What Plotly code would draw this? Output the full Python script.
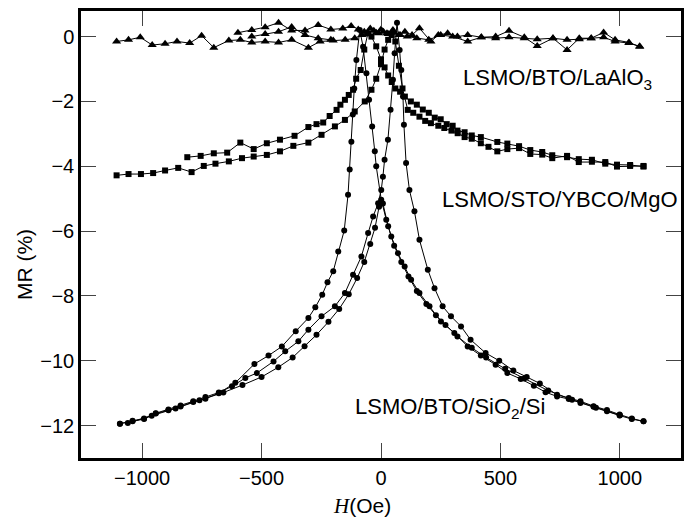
import plotly.graph_objects as go

# ---- LSMO/BTO/SiO2/Si (circles) ----
circ_a_x = [1099, 1050, 999, 946, 890, 835, 786, 737, 689, 640, 585, 529, 480, 418, 363, 307, 251, 203, 161, 126, 99, 71, 43, 22, 1,
            -20, -26, -37, -50, -61, -75, -89, -103, -112, -118, -124, -131, -138, -154, -179, -200, -224, -246, -275, -304,
            -357, -415, -471, -530, -610, -679, -735, -786, -839, -890, -943, -992, -1040, -1093]
circ_a_y = [-11.87, -11.80, -11.69, -11.56, -11.42, -11.30, -11.18, -11.10, -10.97, -10.77, -10.56, -10.38, -10.12, -9.84, -9.56,
            -9.14, -8.79, -8.32, -7.91, -7.50, -7.09, -6.68, -6.17, -5.65, -5.03,
            -4.00, -3.54, -2.77, -1.95, -1.13, -0.31, 0.20, -0.72, -1.60, -2.40, -3.24, -4.10, -4.88, -5.98, -6.63, -7.24,
            -7.58, -7.96, -8.35, -8.68, -9.09, -9.56, -9.84, -10.10, -10.68, -11.00, -11.17, -11.27, -11.41, -11.53,
            -11.63, -11.80, -11.87, -11.94]

circ_b_x = [-1093, -1040, -992, -943, -890, -839, -786, -735, -679, -624, -568, -520, -450, -401, -346, -304, -249, -193,
            -151, -117, -82, -54, -33, -12, 1, 8, 15, 29, 40, 50, 57, 67, 78, 85, 92, 96, 105, 119, 140, 161, 196, 224,
            258, 293, 335, 375, 438, 495, 554, 610, 665, 737, 786, 835, 890, 946, 999, 1050, 1099]
circ_b_y = [-11.94, -11.85, -11.78, -11.62, -11.50, -11.38, -11.25, -11.12, -10.98, -10.79, -10.53, -10.38, -10.02, -9.71,
            -9.40, -9.04, -8.63, -8.32, -7.91, -7.35, -6.78, -6.06, -5.55, -5.14, -4.73, -4.32, -3.80, -3.18, -2.26,
            -1.33, -0.51, 0.43, -0.41, -1.03, -1.85, -2.72, -3.90, -4.73, -5.39, -6.27, -7.19, -7.76, -8.32, -8.63,
            -8.94, -9.35, -9.76, -10.00, -10.30, -10.50, -10.70, -11.05, -11.15, -11.25, -11.40, -11.52, -11.66,
            -11.78, -11.87]

circ_c_x = [-1060, -960, -860, -760, -660, -580, -500, -430, -370, -320, -270, -220, -175, -135, -100, -70, -45, -25, -8,
            8, 30, 55, 85, 115, 150, 190, 230, 270, 320, 380, 440, 520, 600, 700, 800, 900, 1000]
circ_c_y = [-11.92, -11.70, -11.47, -11.22, -10.98, -10.75, -10.50, -10.20, -9.90, -9.55, -9.20, -8.80, -8.40, -7.95,
            -7.45, -6.95, -6.40, -5.90, -5.25, -5.15, -5.85, -6.45, -6.95, -7.40, -7.85, -8.25, -8.60, -8.90, -9.25,
            -9.60, -9.90, -10.25, -10.55, -10.92, -11.20, -11.45, -11.68]

# ---- LSMO/STO/YBCO/MgO (squares) ----
sq_a_x = [-1107, -1057, -1005, -954, -904, -849, -793, -742, -693, -637, -582, -533, -478, -423, -367, -304, -249, -193,
          -151, -110, -68, -40, -20, 0, 15, 30, 45, 60, 75, 90, 112, 135, 161, 185, 209, 240, 265, 295, 321, 350, 380,
          418, 450, 487, 529, 578, 625, 675, 717, 779, 828, 883, 939, 988, 1043, 1099]
sq_a_y = [-4.28, -4.24, -4.24, -4.21, -4.13, -4.05, -4.18, -3.99, -3.92, -3.85, -3.75, -3.70, -3.65, -3.54, -3.37, -3.27,
          -3.03, -2.77, -2.57, -2.31, -2.00, -1.64, -1.30, -0.85, -0.40, -0.10, 0.05, -0.15, -0.90, -1.60, -2.26, -2.35,
          -2.47, -2.60, -2.67, -2.75, -2.82, -2.90, -2.98, -3.10, -3.15, -3.29, -3.40, -3.54, -3.47, -3.44, -3.62,
          -3.64, -3.75, -3.68, -3.87, -3.86, -3.87, -4.01, -3.99, -3.99]

sq_b_x = [1099, 1043, 988, 939, 883, 828, 779, 717, 675, 625, 578, 529, 487, 418, 380, 350, 320, 300, 275, 250, 225, 200,
          175, 150, 125, 100, 80, 60, 45, 30, 15, 0, -20, -40, -55, -70, -85, -104, -117, -135, -151, -170, -186, -215,
          -242, -270, -304, -362, -423, -478, -533, -589, -644, -700, -755, -811]
sq_b_y = [-4.01, -3.96, -3.95, -3.92, -3.80, -3.78, -3.72, -3.66, -3.56, -3.50, -3.38, -3.30, -3.25, -3.10, -3.05, -2.95,
          -2.90, -2.75, -2.70, -2.55, -2.50, -2.35, -2.25, -2.10, -2.00, -1.85, -1.70, -1.60, -1.40, -1.20, -0.95, -0.70,
          -0.30, 0.00, 0.10, -0.40, -1.03, -1.30, -1.64, -1.80, -1.95, -2.10, -2.26, -2.45, -2.65, -2.70, -2.79, -3.06,
          -3.18, -3.29, -3.47, -3.27, -3.58, -3.60, -3.68, -3.72]

# ---- LSMO/BTO/LaAlO3 (triangles) ----
tri_a_x = [-1107, -1057, -1008, -958, -904, -854, -801, -751, -700, -637, -589, -541, -485, -429, -374, -304, -255, -200,
           -150, -110, -80, -55, -30, -10, 10, 30, 55, 80, 110, 150, 200, 250, 300, 363, 420, 480, 536, 600, 654, 720,
           779, 830, 880, 932, 980, 1038, 1083]
tri_a_y = [-0.15, -0.10, -0.02, -0.26, -0.22, -0.15, -0.20, 0.03, -0.34, -0.12, -0.10, -0.18, -0.15, -0.18, -0.10, -0.34,
           -0.15, -0.12, -0.10, -0.05, 0.05, 0.12, 0.18, 0.10, 0.15, 0.08, 0.12, 0.05, 0.00, -0.05, -0.10, 0.05, 0.00,
           -0.15, -0.02, 0.00, 0.18, -0.02, -0.29, -0.05, -0.41, -0.05, -0.05, 0.13, -0.10, -0.18, -0.31]

tri_b_x = [-599, -541, -485, -429, -374, -318, -263, -210, -160, -125, -95, -70, -45, -20, 0, 25, 50, 75, 100, 130, 161,
           209, 240, 279, 320, 363, 420, 480, 536, 600, 654, 720, 779, 830, 880, 932, 980, 1038, 1083]
tri_b_y = [0.12, 0.20, 0.29, 0.43, 0.19, 0.19, 0.36, 0.22, 0.25, 0.33, 0.22, 0.15, 0.25, 0.12, 0.22, 0.10, 0.20, 0.05,
           0.15, 0.05, 0.26, -0.15, 0.05, 0.10, 0.00, 0.05, -0.02, -0.05, -0.02, -0.05, -0.08, -0.05, -0.10, -0.08,
           -0.05, -0.02, -0.15, -0.20, -0.30]

tri_c_x = [-541, -485, -429, -374, -318, -263, -210]
tri_c_y = [0.00, 0.08, 0.15, 0.30, 0.05, -0.05, -0.10]

x_ticks = [-1000, -500, 0, 500, 1000]
y_ticks = [0, -2, -4, -6, -8, -10, -12]

labels = ["LSMO/BTO/LaAlO<sub>3</sub>", "LSMO/STO/YBCO/MgO", "LSMO/BTO/SiO<sub>2</sub>/Si"]
label_x = [333, 246, -117]
label_y = [-1.3, -5.04, -11.45]

fig = go.Figure()

def add(xs, ys, symbol, size):
    fig.add_trace(go.Scatter(
        x=xs, y=ys, mode="lines+markers",
        line=dict(color="black", width=1),
        marker=dict(symbol=symbol, size=size, color="black"),
        showlegend=False, hoverinfo="skip"))

for xs, ys in [(tri_a_x, tri_a_y), (tri_b_x, tri_b_y), (tri_c_x, tri_c_y)]:
    add(xs, ys, "triangle-up", 8)
for xs, ys in [(sq_a_x, sq_a_y), (sq_b_x, sq_b_y)]:
    add(xs, ys, "square", 6)
for xs, ys in [(circ_a_x, circ_a_y), (circ_b_x, circ_b_y), (circ_c_x, circ_c_y)]:
    add(xs, ys, "circle", 6)

font_family = "Liberation Sans, Arial, sans-serif"

for t, lx, ly in zip(labels, label_x, label_y):
    fig.add_annotation(x=lx, y=ly, text=t, showarrow=False, xanchor="left", yanchor="middle",
                       font=dict(family=font_family, size=22, color="black"))

fig.add_annotation(xref="paper", yref="paper", x=-0.093, y=0.432, text="MR (%)", textangle=-90,
                   showarrow=False, xanchor="center", yanchor="middle",
                   font=dict(family=font_family, size=21, color="black"))
fig.add_annotation(xref="paper", yref="paper", x=0.468, y=-0.107,
                   text="<span style=\"font-family:'Liberation Serif', 'DejaVu Serif', serif\"><i>H</i></span>(Oe)",
                   showarrow=False, xanchor="center", yanchor="middle",
                   font=dict(family=font_family, size=21, color="black"))

axis_common = dict(showgrid=False, zeroline=False, showline=True, linecolor="black", linewidth=2.5,
                   mirror="ticks", ticks="inside", ticklen=15, tickwidth=1, tickcolor="#444",
                   tickfont=dict(family=font_family, size=20, color="black"))

fig.update_xaxes(range=[-1256, 1256], tickvals=x_ticks, ticktext=[f"{v}".replace("-", "\u2212") for v in x_ticks],
                 **axis_common)
fig.update_yaxes(range=[-13.0, 0.79], tickvals=y_ticks, ticktext=[f"{v}".replace("-", "\u2212") for v in y_ticks],
                 **axis_common)

fig.update_layout(width=687, height=519, margin=dict(l=81, r=3, t=11, b=61),
                  plot_bgcolor="white", paper_bgcolor="white")

fig.write_html("out.html")
